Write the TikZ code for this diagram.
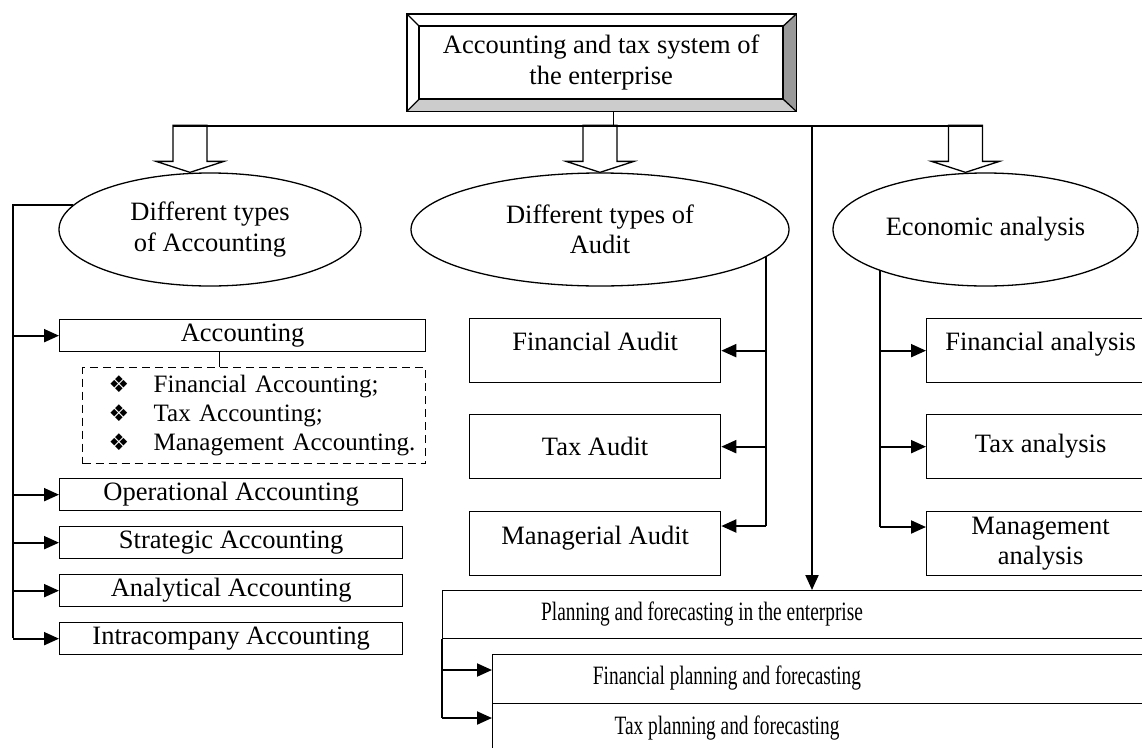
\documentclass[tikz,border=0pt]{standalone}
\usepackage{fontspec}
\setmainfont{Liberation Serif}
\newfontfamily\symfont{DejaVu Sans}
\usepackage{graphicx}
\usetikzlibrary{arrows.meta,shapes.geometric,calc}

\tikzset{
  box/.style={draw,line width=1.3pt,rectangle,inner sep=0pt,anchor=north west,align=center},
  oval/.style={draw,line width=1.3pt,ellipse,inner sep=0pt,align=center},
  thin/.style={line width=1.3pt},
  link/.style={line width=2pt},
  arrow/.style={line width=2pt,-{Triangle[length=15pt,width=13pt]}}
}
\newcommand{\bul}{\makebox[45pt][l]{\symfont\fontsize{23}{23}\selectfont ❖}}

\begin{document}
\begin{tikzpicture}[x=1pt,y=-1pt,font=\fontsize{26.5}{30.5}\selectfont]
    \useasboundingbox (0,0) rectangle (1142,747);
    \clip (0,0) rectangle (1142,747);

    % top box
    \node[box,minimum width=363pt,minimum height=72pt] (sys) at (419,26)
        {Accounting and tax system of\\the enterprise};
    \fill[black!20] (sys.south west) -- (sys.south east) -- ++(13,12) -- ++(-388,0) -- cycle;
    \fill[black!40] (sys.north east) -- ++(13,-12) -- ++(0,96) -- (sys.south east) -- cycle;
    \draw[thin] (sys.south west) rectangle (sys.north east);
    \draw[thin] ($(sys.north west)+(-12,-12)$) rectangle ($(sys.south east)+(13,12)$);
    \foreach \a/\dx/\dy in {north west/-12/-12, north east/13/-12, south west/-12/12, south east/13/12}
        \draw[thin] (sys.\a) -- ++(\dx,\dy);

    % ellipses
    \node[oval,minimum width=302pt,minimum height=113pt] (acctypes) at (210,229.5)
        {Different types\\of Accounting};
    \node[oval,minimum width=378pt,minimum height=113pt] (audtypes) at (600,229.5)
        {Different types of\\Audit};
    \node[oval,minimum width=305pt,minimum height=113pt] (ecotypes) at (985.5,229.5)
        {Economic analysis};

    % bus under the top box
    \coordinate (hl) at (173,126);
    \coordinate (hr) at (983,126);
    \coordinate (split) at (812,126);
    \coordinate (stem) at ($(sys.south)+(12,12)$);
    \draw[thin] (hl) -- (hr);
    \draw[thin] (stem) -- (stem |- hl);

    % block arrows
    \foreach \n/\s in {acctypes/-20, audtypes/0, ecotypes/-20}
        \draw[thin] ([xshift=\s pt]\n.north) -- ++(-34,-11) -- ++(17,0) -- ++(0,-36)
            -- ++(34,0) -- ++(0,36) -- ++(17,0) -- cycle;

    % accounting
    \node[box,minimum width=366pt,minimum height=32pt] (acc) at (59,319) {Accounting};
    \node[box,dashed,dash pattern=on 8pt off 5pt,minimum height=96pt,text width=343pt,align=left,
        font=\fontsize{25}{29}\selectfont] (acclist) at (82,367)
        {\hspace*{26pt}\bul Financial Accounting;\\
         \hspace*{26pt}\bul Tax Accounting;\\
         \hspace*{26pt}\bul Management Accounting.};
    \node[box,minimum width=343pt,minimum height=32pt] (oper)  at (59,478) {Operational Accounting};
    \node[box,minimum width=343pt,minimum height=32pt] (strat) at (59,526) {Strategic Accounting};
    \node[box,minimum width=343pt,minimum height=32pt] (anal)  at (59,574) {Analytical Accounting};
    \node[box,minimum width=343pt,minimum height=32pt] (intra) at (59,622) {Intracompany Accounting};

    % audit
    \node[box,minimum width=251pt,minimum height=64pt,text depth=18pt] (finaud) at (469,318) {Financial Audit};
    \node[box,minimum width=251pt,minimum height=64pt] (taxaud) at (469,414) {Tax Audit};
    \node[box,minimum width=251pt,minimum height=64pt,text depth=16pt] (mgraud) at (469,511) {Managerial Audit};

    % analysis
    \node[box,minimum width=228pt,minimum height=64pt,text depth=18pt] (finana) at (926,318) {Financial analysis};
    \node[box,minimum width=228pt,minimum height=64pt] (taxana) at (926,414) {Tax analysis};
    \node[box,minimum width=228pt,minimum height=64pt] (mgrana) at (926,511) {Management\\analysis};

    % planning
    \node[box,minimum width=720pt,minimum height=48pt] (plan) at (442,590) {};
    \node (plantext) at (702,614) {\scalebox{0.73}[1]{Planning and forecasting in the enterprise}};
    \node[box,minimum width=670pt,minimum height=49pt] (finplan) at (492,654) {};
    \node (finplantext) at (727,678) {\scalebox{0.73}[1]{Financial planning and forecasting}};
    \node[box,minimum width=670pt,minimum height=49pt] (taxplan) at (492,703) {};
    \node (taxplantext) at (727,728) {\scalebox{0.73}[1]{Tax planning and forecasting}};

    % left links
    \coordinate (lbus) at (13,638);
    \draw[link] (acctypes.170) -| (lbus);
    \foreach \n in {acc,oper,strat,anal,intra}
        \draw[arrow] (lbus |- \n.west) -- (\n.west);
    \draw[thin] ([xshift=-23pt]acc.south) -- ([xshift=-23pt]acc.south |- acclist.north);

    % audit links
    \coordinate (abus) at (766,526);
    \draw[link] (abus |- audtypes.-9) -- (abus);
    \foreach \n in {finaud,taxaud}
        \draw[arrow] (abus |- \n.east) -- (\n.east);
    \draw[arrow] (abus) -- (abus -| mgraud.east);

    % analysis links
    \coordinate (rbus) at (880,527);
    \draw[link] (rbus |- ecotypes.-159) -- (rbus);
    \foreach \n in {finana,taxana}
        \draw[arrow] (rbus |- \n.west) -- (\n.west);
    \draw[arrow] (rbus) -- (rbus -| mgrana.west);

    % planning links
    \draw[arrow] (split) -- (split |- plan.north);
    \coordinate (pbus) at (442,718);
    \coordinate (pf) at (442,670);
    \draw[link] (plan.south west) -- (pbus);
    \draw[arrow] (pf) -- (pf -| finplan.west);
    \draw[arrow] (pbus) -- (pbus -| taxplan.west);
\end{tikzpicture}
\end{document}
